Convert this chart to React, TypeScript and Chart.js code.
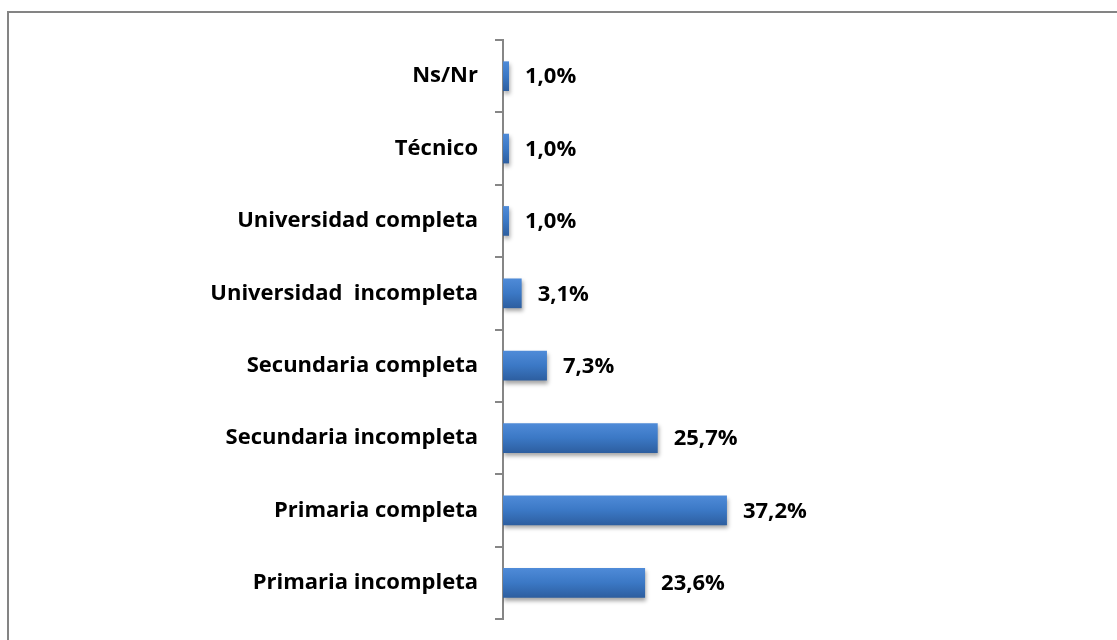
import React, { useEffect, useRef } from "react";
import { Chart, registerables } from "chart.js";

Chart.register(...registerables);

const categories = [
  "Ns/Nr",
  "Técnico",
  "Universidad completa",
  "Universidad  incompleta",
  "Secundaria completa",
  "Secundaria incompleta",
  "Primaria completa",
  "Primaria incompleta",
];
const values = [1.0, 1.0, 1.0, 3.1, 7.3, 25.7, 37.2, 23.6];
const valueLabels = ["1,0%", "1,0%", "1,0%", "3,1%", "7,3%", "25,7%", "37,2%", "23,6%"];

const FONT = "'Open Sans', Lato, sans-serif";
const FONT_SIZE = 22;
const BAR_PCT = 0.41;

const shadowPlugin = {
  id: "barShadow",
  beforeDatasetsDraw(chart: any) {
    const ctx = chart.ctx;
    ctx.save();
    ctx.shadowColor = "rgba(0,0,0,0.35)";
    ctx.shadowBlur = 4;
    ctx.shadowOffsetX = 1;
    ctx.shadowOffsetY = 3;
  },
  afterDatasetsDraw(chart: any) {
    chart.ctx.restore();
  },
};

const valueLabelPlugin = {
  id: "valueLabels",
  afterDatasetsDraw(chart: any) {
    const ctx = chart.ctx;
    const meta = chart.getDatasetMeta(0);
    ctx.save();
    ctx.font = `bold ${FONT_SIZE}px ${FONT}`;
    ctx.fillStyle = "#000";
    ctx.textAlign = "left";
    ctx.textBaseline = "middle";
    meta.data.forEach((bar: any, i: number) => {
      ctx.fillText(valueLabels[i], bar.x + 16, bar.y + 1);
    });
    ctx.restore();
  },
};

export default function App() {
  const ref = useRef<HTMLCanvasElement>(null);

  useEffect(() => {
    const canvas = ref.current!;
    const chart = new Chart(canvas, {
      type: "bar",
      data: {
        labels: categories,
        datasets: [
          {
            data: values,
            backgroundColor: (c: any) => {
              const ch = c.chart;
              const ys = ch.scales && ch.scales.y;
              if (!ys || !ch.chartArea || c.dataIndex === undefined) return "#3b78c4";
              const center = ys.getPixelForValue(c.dataIndex);
              const step = Math.abs(ys.getPixelForValue(1) - ys.getPixelForValue(0));
              const h = step * BAR_PCT;
              const g = ch.ctx.createLinearGradient(0, center - h / 2, 0, center + h / 2);
              g.addColorStop(0, "#4f8bd8");
              g.addColorStop(0.5, "#3b78c5");
              g.addColorStop(1, "#2d5e9f");
              return g;
            },
            borderWidth: 0,
            barPercentage: BAR_PCT,
            categoryPercentage: 1,
          },
        ],
      },
      options: {
        indexAxis: "y",
        animation: false,
        responsive: false,
        maintainAspectRatio: false,
        layout: { padding: { top: 40, bottom: 21, left: 0, right: 12 } },
        plugins: {
          legend: { display: false },
          tooltip: { enabled: false },
        },
        scales: {
          x: {
            display: false,
            min: 0,
            max: 100,
          },
          y: {
            afterFit: (s: any) => {
              s.width = 503;
              s.paddingTop = 0;
              s.paddingBottom = 0;
            },
            grid: {
              display: true,
              drawOnChartArea: false,
              drawTicks: true,
              tickLength: 8,
              color: "#868686",
              lineWidth: 2,
              offset: true,
            },
            border: { display: true, color: "#868686", width: 2 },
            ticks: {
              color: "#000",
              padding: 17,
              font: { family: FONT, size: FONT_SIZE, weight: "bold" },
            },
          },
        },
      },
      plugins: [shadowPlugin, valueLabelPlugin],
    });
    return () => chart.destroy();
  }, []);

  return (
    <div style={{ position: "fixed", left: 0, top: 0, width: 1117, height: 640, background: "#fff", overflow: "hidden" }}>
      <div
        style={{
          position: "absolute",
          left: 7,
          top: 11,
          width: 1200,
          height: 700,
          border: "2px solid #848484",
          boxSizing: "border-box",
        }}
      />
      <canvas ref={ref} width={1117} height={640} style={{ position: "absolute", left: 0, top: 0, width: 1117, height: 640 }} />
    </div>
  );
}
